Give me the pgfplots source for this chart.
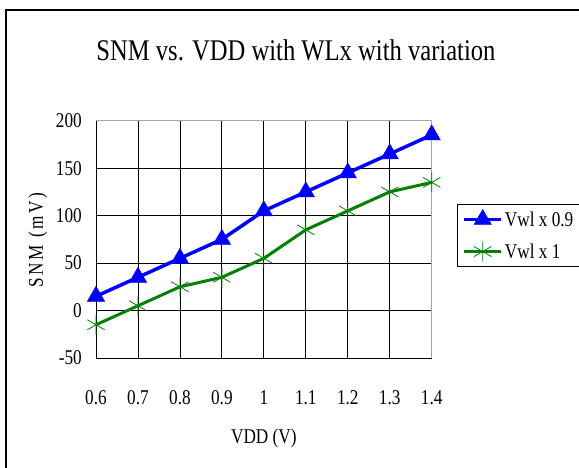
\documentclass[border=0pt]{standalone}
\usepackage{fontspec}
\setmainfont{Liberation Serif}[FakeStretch=0.82]
\newfontfamily\spacedfont{Liberation Serif}[FakeStretch=0.82, LetterSpace=12]
\usepackage{pgfplots}
\pgfplotsset{compat=1.18}
\definecolor{xlgreen}{RGB}{0,128,0}

\begin{document}
\begin{tikzpicture}
\useasboundingbox (0pt,0pt) rectangle (579pt,467pt);
\clip (0pt,0pt) rectangle (579pt,467pt);
\draw[line width=1.2pt] (6pt,-5pt) -- (6pt,457pt) -- (590pt,457pt);
\node[font=\fontsize{30}{36}\selectfont] at (296pt,417pt) {SNM vs. VDD with WLx with variation};
\begin{axis}[
  at={(96pt,109pt)}, anchor=south west,
  scale only axis, width=335.7pt, height=237.3pt,
  xmin=0.6, xmax=1.4, ymin=-50, ymax=200,
  xtick={0.6,0.7,0.8,0.9,1,1.1,1.2,1.3,1.4},
  xticklabels={0.6,0.7,0.8,0.9,1,1.1,1.2,1.3,1.4},
  ytick={-50,0,50,100,150,200},
  yticklabels={-50,0,50,100,150,200},
  /pgf/number format/assume math mode=true,
  tick label style={font=\fontsize{21}{25}\selectfont},
  xticklabel style={anchor=center, yshift=-40pt},
  yticklabel style={anchor=east, inner sep=0pt, xshift=-14pt},
  major tick length=0pt,
  grid=major,
  major grid style={black, line width=0.8pt},
  axis line style={black, line width=0.9pt},
  clip=false,
  xlabel={VDD (V)},
  xlabel style={at={(axis description cs:0.5,-0.337)}, anchor=center, font=\fontsize{21}{25}\selectfont},
  ylabel={\spacedfont SNM (mV)},
  ylabel style={at={(axis description cs:-0.173,0.497)}, anchor=center, font=\fontsize{21}{25}\selectfont},
  legend style={at={(axis description cs:1.0754,0.649)}, anchor=north west,
    draw=black, line width=0.9pt, font=\fontsize{21}{25}\selectfont,
    inner xsep=5pt, inner ysep=5pt, row sep=12pt, cells={anchor=west}},
  legend image code/.code={\draw[#1, mark repeat=2, mark phase=2] plot coordinates {(0pt,0pt) (18.5pt,0pt) (37pt,0pt)};},
]
\draw[gray!70, line width=1pt] (rel axis cs:0,1) -- (rel axis cs:1,1) -- (rel axis cs:1,0);
\addplot[blue, line width=3.5pt, mark=triangle*, mark size=10pt,
  mark options={solid, line width=0.5pt, fill=blue}]
  coordinates {(0.6,15)(0.7,35)(0.8,55)(0.9,75)(1.0,105)(1.1,125)(1.2,145)(1.3,165)(1.4,185)};
\addlegendentry{Vwl x 0.9}
\addplot[xlgreen, line width=3pt, mark=asterisk, mark size=10pt,
  mark options={solid, line width=0.8pt}]
  coordinates {(0.6,-15)(0.7,5)(0.8,25)(0.9,35)(1.0,55)(1.1,85)(1.2,105)(1.3,125)(1.4,135)};
\addlegendentry{Vwl x 1}
\end{axis}
\end{tikzpicture}
\end{document}
